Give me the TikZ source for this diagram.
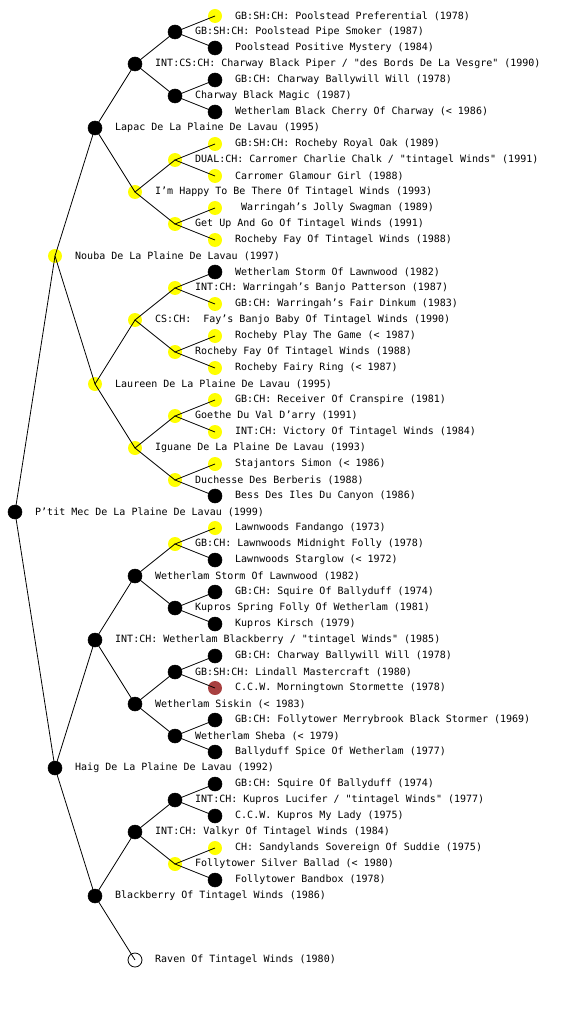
\documentclass[tikz,border=0pt]{standalone}
\usepackage{fontspec}
\newfontfamily\pedfont{DejaVu Sans Mono}
\definecolor{dogred}{RGB}{168,64,64}
\definecolor{dogyellow}{RGB}{255,255,0}
\newcommand\dog[5]{\node[#4] (#1) at (#2,#3) {}; \node[lbl] (#1-t) at (#2+20,#3) {#5};}
\newcommand\kids[1]{\draw[edge] (#1a.center) -- (#1.center) -- (#1b.center);}
\begin{document}
\begin{tikzpicture}[x=1pt,y=-1pt,
  dogbase/.style={circle, minimum size=14pt, inner sep=0pt},
  blk/.style={dogbase, fill=black, draw=black, line width=0.5pt},
  ylw/.style={dogbase, fill=dogyellow},
  red/.style={dogbase, fill=dogred},
  wht/.style={dogbase, fill=white, draw=black, line width=0.8pt},
  lbl/.style={anchor=west, inner sep=0pt, font=\pedfont\fontsize{10}{12}\selectfont},
  edge/.style={draw=black, line width=0.8pt}]
\useasboundingbox (0,0) rectangle (560,1024);
% level 0
\dog{r}{15}{512}{blk}{P’tit Mec De La Plaine De Lavau (1999)}
% level 1
\dog{ra}{55}{256}{ylw}{Nouba De La Plaine De Lavau (1997)}
\dog{rb}{55}{768}{blk}{Haig De La Plaine De Lavau (1992)}
% level 2
\dog{raa}{95}{128}{blk}{Lapac De La Plaine De Lavau (1995)}
\dog{rab}{95}{384}{ylw}{Laureen De La Plaine De Lavau (1995)}
\dog{rba}{95}{640}{blk}{INT:CH: Wetherlam Blackberry / "tintagel Winds" (1985)}
\dog{rbb}{95}{896}{blk}{Blackberry Of Tintagel Winds (1986)}
% level 3
\dog{raaa}{135}{64}{blk}{INT:CS:CH: Charway Black Piper / "des Bords De La Vesgre" (1990)}
\dog{raab}{135}{192}{ylw}{I’m Happy To Be There Of Tintagel Winds (1993)}
\dog{raba}{135}{320}{ylw}{CS:CH:\ \ Fay’s Banjo Baby Of Tintagel Winds (1990)}
\dog{rabb}{135}{448}{ylw}{Iguane De La Plaine De Lavau (1993)}
\dog{rbaa}{135}{576}{blk}{Wetherlam Storm Of Lawnwood (1982)}
\dog{rbab}{135}{704}{blk}{Wetherlam Siskin (< 1983)}
\dog{rbba}{135}{832}{blk}{INT:CH: Valkyr Of Tintagel Winds (1984)}
\dog{rbbb}{135}{960}{wht}{Raven Of Tintagel Winds (1980)}
% level 4
\dog{raaaa}{175}{32}{blk}{GB:SH:CH: Poolstead Pipe Smoker (1987)}
\dog{raaab}{175}{96}{blk}{Charway Black Magic (1987)}
\dog{raaba}{175}{160}{ylw}{DUAL:CH: Carromer Charlie Chalk / "tintagel Winds" (1991)}
\dog{raabb}{175}{224}{ylw}{Get Up And Go Of Tintagel Winds (1991)}
\dog{rabaa}{175}{288}{ylw}{INT:CH: Warringah’s Banjo Patterson (1987)}
\dog{rabab}{175}{352}{ylw}{Rocheby Fay Of Tintagel Winds (1988)}
\dog{rabba}{175}{416}{ylw}{Goethe Du Val D’arry (1991)}
\dog{rabbb}{175}{480}{ylw}{Duchesse Des Berberis (1988)}
\dog{rbaaa}{175}{544}{ylw}{GB:CH: Lawnwoods Midnight Folly (1978)}
\dog{rbaab}{175}{608}{blk}{Kupros Spring Folly Of Wetherlam (1981)}
\dog{rbaba}{175}{672}{blk}{GB:SH:CH: Lindall Mastercraft (1980)}
\dog{rbabb}{175}{736}{blk}{Wetherlam Sheba (< 1979)}
\dog{rbbaa}{175}{800}{blk}{INT:CH: Kupros Lucifer / "tintagel Winds" (1977)}
\dog{rbbab}{175}{864}{ylw}{Follytower Silver Ballad (< 1980)}
% level 5
\dog{raaaaa}{215}{16}{ylw}{GB:SH:CH: Poolstead Preferential (1978)}
\dog{raaaab}{215}{48}{blk}{Poolstead Positive Mystery (1984)}
\dog{raaaba}{215}{80}{blk}{GB:CH: Charway Ballywill Will (1978)}
\dog{raaabb}{215}{112}{blk}{Wetherlam Black Cherry Of Charway (< 1986)}
\dog{raabaa}{215}{144}{ylw}{GB:SH:CH: Rocheby Royal Oak (1989)}
\dog{raabab}{215}{176}{ylw}{Carromer Glamour Girl (1988)}
\dog{raabba}{215}{208}{ylw}{\ Warringah’s Jolly Swagman (1989)}
\dog{raabbb}{215}{240}{ylw}{Rocheby Fay Of Tintagel Winds (1988)}
\dog{rabaaa}{215}{272}{blk}{Wetherlam Storm Of Lawnwood (1982)}
\dog{rabaab}{215}{304}{ylw}{GB:CH: Warringah’s Fair Dinkum (1983)}
\dog{rababa}{215}{336}{ylw}{Rocheby Play The Game (< 1987)}
\dog{rababb}{215}{368}{ylw}{Rocheby Fairy Ring (< 1987)}
\dog{rabbaa}{215}{400}{ylw}{GB:CH: Receiver Of Cranspire (1981)}
\dog{rabbab}{215}{432}{ylw}{INT:CH: Victory Of Tintagel Winds (1984)}
\dog{rabbba}{215}{464}{ylw}{Stajantors Simon (< 1986)}
\dog{rabbbb}{215}{496}{blk}{Bess Des Iles Du Canyon (1986)}
\dog{rbaaaa}{215}{528}{ylw}{Lawnwoods Fandango (1973)}
\dog{rbaaab}{215}{560}{blk}{Lawnwoods Starglow (< 1972)}
\dog{rbaaba}{215}{592}{blk}{GB:CH: Squire Of Ballyduff (1974)}
\dog{rbaabb}{215}{624}{blk}{Kupros Kirsch (1979)}
\dog{rbabaa}{215}{656}{blk}{GB:CH: Charway Ballywill Will (1978)}
\dog{rbabab}{215}{688}{red}{C.C.W. Morningtown Stormette (1978)}
\dog{rbabba}{215}{720}{blk}{GB:CH: Follytower Merrybrook Black Stormer (1969)}
\dog{rbabbb}{215}{752}{blk}{Ballyduff Spice Of Wetherlam (1977)}
\dog{rbbaaa}{215}{784}{blk}{GB:CH: Squire Of Ballyduff (1974)}
\dog{rbbaab}{215}{816}{blk}{C.C.W. Kupros My Lady (1975)}
\dog{rbbaba}{215}{848}{ylw}{CH: Sandylands Sovereign Of Suddie (1975)}
\dog{rbbabb}{215}{880}{blk}{Follytower Bandbox (1978)}
% connectors
\kids{r}
\kids{ra}\kids{rb}
\kids{raa}\kids{rab}\kids{rba}\kids{rbb}
\kids{raaa}\kids{raab}\kids{raba}\kids{rabb}\kids{rbaa}\kids{rbab}\kids{rbba}
\kids{raaaa}\kids{raaab}\kids{raaba}\kids{raabb}\kids{rabaa}\kids{rabab}\kids{rabba}\kids{rabbb}
\kids{rbaaa}\kids{rbaab}\kids{rbaba}\kids{rbabb}\kids{rbbaa}\kids{rbbab}
\end{tikzpicture}
\end{document}
